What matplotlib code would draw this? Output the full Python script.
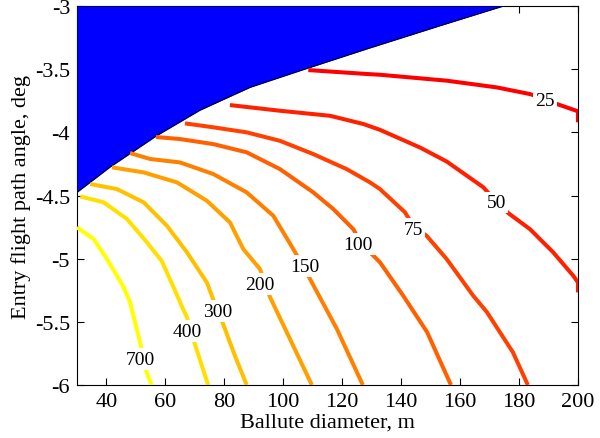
import matplotlib
matplotlib.use("Agg")
import matplotlib.pyplot as plt
import numpy as np

plt.rcParams['font.family'] = ['Liberation Serif', 'DejaVu Serif']
plt.rcParams['axes.unicode_minus'] = False

# infeasible region boundary (filled blue above it)
bound_x = [30, 41.2, 57.0, 71.7, 88.7, 105.7, 128.3, 153.2, 174.7]
bound_y = [-4.475, -4.275, -4.027, -3.825, -3.644, -3.512, -3.340, -3.156, -3.0]

levels = [25, 50, 75, 100, 150, 200, 300, 400, 700]

# contour lines
c25_x = [108.5, 128.3, 132.8, 155.5, 172.4, 183.7, 188.8, 192.9, 199.7, 200.0, 200.0]
c25_y = [-3.507, -3.538, -3.544, -3.591, -3.644, -3.697, -3.735, -3.776, -3.831, -3.835, -3.92]
c50_x = [81.9, 98.9, 115.9, 127.2, 132.8, 146.4, 155.4, 167.9, 172.4, 176.4, 183.7, 191.6, 198.4, 200.0, 200.0]
c50_y = [-3.784, -3.829, -3.869, -3.934, -3.98, -4.12, -4.23, -4.435, -4.554, -4.64, -4.766, -4.950, -5.135, -5.188, -5.267]
c75_x = [66.65, 76.25, 87.58, 98.88, 110.18, 121.52, 129.42, 132.82, 141.3, 144.1, 148.66, 155.45, 164.48, 169.1, 177.9, 183.0]
c75_y = [-3.929, -3.960, -4.000, -4.067, -4.172, -4.291, -4.396, -4.449, -4.633, -4.74, -4.819, -5.003, -5.294, -5.423, -5.740, -6.0]
c100_x = [56.8, 64.95, 76.25, 87.58, 98.88, 110.18, 116.97, 123.76, 126.5, 132.82, 140.72, 148.8, 156.9]
c100_y = [-4.037, -4.053, -4.093, -4.158, -4.291, -4.475, -4.607, -4.766, -4.88, -5.029, -5.294, -5.581, -6.0]
c150_x = [48.0, 54.87, 64.95, 76.25, 87.58, 96.61, 103.40, 106.5, 109.1, 118.2, 127.0]
c150_y = [-4.164, -4.211, -4.238, -4.330, -4.475, -4.660, -4.924, -5.05, -5.162, -5.557, -6.0]
c200_x = [41.88, 52.63, 63.93, 74.11, 81.92, 86.43, 92.1, 95.5, 102.3, 109.7]
c200_y = [-4.277, -4.317, -4.396, -4.542, -4.713, -4.924, -5.082, -5.304, -5.637, -6.0]
c300_x = [34.51, 43.57, 52.63, 60.54, 67.33, 74.11, 76.8, 78.2, 79.6, 83.6, 87.6]
c300_y = [-4.409, -4.449, -4.554, -4.740, -4.950, -5.19, -5.359, -5.44, -5.518, -5.769, -6.0]
c400_x = [31.12, 39.06, 46.97, 53.75, 58.8, 62.6, 66.0, 67.3, 68.6, 70.0, 74.5]
c400_y = [-4.507, -4.554, -4.686, -4.871, -5.02, -5.217, -5.399, -5.462, -5.57, -5.676, -6.0]
c700_x = [30.0, 35.67, 40.18, 43.57, 45.86, 48.0, 51.4, 52.5, 53.65, 55.35]
c700_y = [-4.752, -4.845, -5.003, -5.135, -5.227, -5.344, -5.660, -5.78, -5.900, -6.0]

# label anchor points
lab_x = [188.8, 172.4, 144.1, 125.4, 107.4, 92.1, 77.8, 67.3, 51.4]
lab_y = [-3.75, -4.554, -4.766, -4.884, -5.059, -5.201, -5.415, -5.573, -5.795]

lines_x = [c25_x, c50_x, c75_x, c100_x, c150_x, c200_x, c300_x, c400_x, c700_x]
lines_y = [c25_y, c50_y, c75_y, c100_y, c150_y, c200_y, c300_y, c400_y, c700_y]

fig = plt.figure(figsize=(6.0, 4.39), dpi=100)
ax = fig.add_axes([0.1283, 0.1207, 0.8350, 0.8633])

# blue region
ax.fill_between(bound_x, bound_y, -3, color='#0000ff', lw=0, zorder=3)
ax.plot(bound_x, bound_y, color='k', lw=0.7, zorder=3.5)

cmap = plt.get_cmap('autumn')
for i, lev in enumerate(levels):
    col = cmap(i / (len(levels) - 1))
    ax.plot(lines_x[i], lines_y[i], color=col, lw=2.9, solid_capstyle='butt',
            solid_joinstyle='round', zorder=4)
    ax.text(lab_x[i], lab_y[i], str(lev), fontsize=14, ha='center', va='center', zorder=5,
            bbox=dict(facecolor='white', edgecolor='none', pad=1.5))

ax.set_xlim(30, 200)
ax.set_ylim(-6, -3)
ax.set_xticks(np.arange(40, 201, 20))
ax.set_yticks(np.arange(-6, -2.9, 0.5))
ax.set_yticklabels(['-6', '-5.5', '-5', '-4.5', '-4', '-3.5', '-3'])
ax.tick_params(direction='in', top=True, right=True, length=5, width=0.8, labelsize=16, pad=5)
ax.spines['top'].set_zorder(0.5)
for s in ax.spines.values():
    s.set_linewidth(0.8)

ax.set_xlabel('Ballute diameter, m', fontsize=16, labelpad=1)
ax.set_ylabel('Entry flight path angle, deg', fontsize=16, labelpad=3)

fig.savefig('out.png', dpi=100)
